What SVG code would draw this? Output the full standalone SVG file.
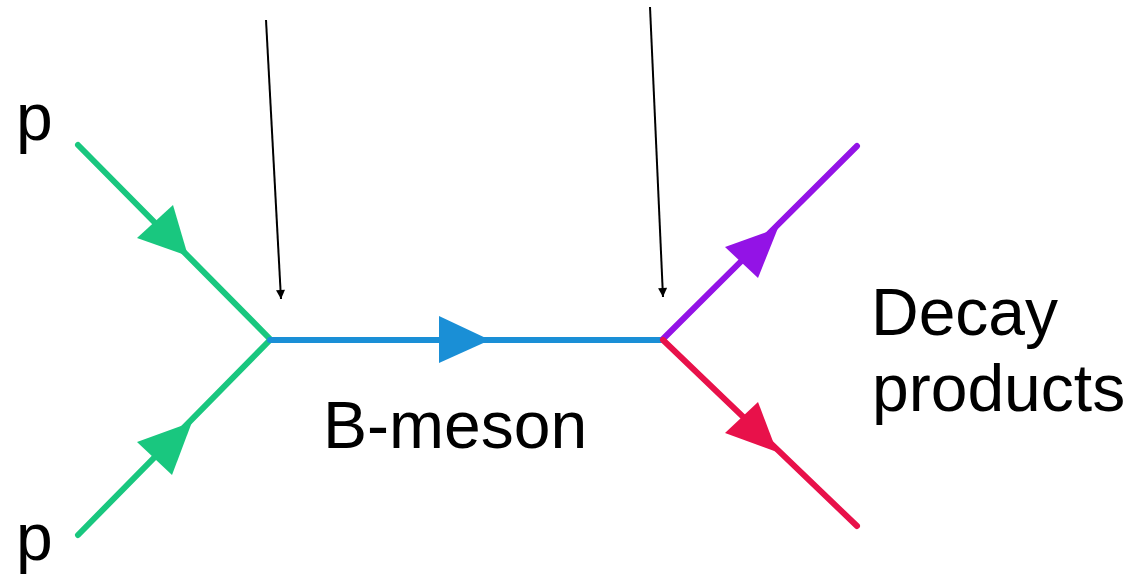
<svg xmlns="http://www.w3.org/2000/svg" width="1132" height="576" viewBox="0 0 1132 576">
  <defs>
    <marker id="blackArrow" viewBox="0 0 10 10" refX="10" refY="5" markerWidth="12" markerHeight="9" markerUnits="userSpaceOnUse" orient="auto">
      <path d="M0,0 L10,5 L0,10 Z" fill="#000"/>
    </marker>
  </defs>
  <style>
    .lbl { font-family: "Liberation Sans", Arial, sans-serif; font-size: 66px; fill: #000; }
    .prop { fill: none; stroke-width: 6; stroke-linecap: round; }
    .pointer { stroke: #000; stroke-width: 2; fill: none; }
  </style>
  <rect width="1132" height="576" fill="#fff"/>

  <g id="connectors">
    <g id="proton-top">
      <line class="prop" x1="78" y1="145" x2="270" y2="339" stroke="#19c77f"/>
      <polygon points="188,256 137,238 173,205" fill="#19c77f"/>
    </g>
    <g id="proton-bottom">
      <line class="prop" x1="78" y1="535" x2="270" y2="340" stroke="#19c77f"/>
      <polygon points="192,422 137,442 172,475" fill="#19c77f"/>
    </g>
    <g id="b-meson-line">
      <line class="prop" x1="270" y1="340" x2="663" y2="340" stroke="#1a8fd6"/>
      <polygon points="439,316 490,340 439,363" fill="#1a8fd6"/>
    </g>
    <g id="decay-up">
      <line class="prop" x1="663" y1="339" x2="857" y2="146" stroke="#9313e6"/>
      <polygon points="778,228 725,247 758,278" fill="#9313e6"/>
    </g>
    <g id="decay-down">
      <line class="prop" x1="663" y1="340" x2="857" y2="526" stroke="#e8114a"/>
      <polygon points="777,452 725,433 758,402" fill="#e8114a"/>
    </g>
    <line class="pointer" x1="266" y1="20" x2="281" y2="299" marker-end="url(#blackArrow)"/>
    <line class="pointer" x1="650" y1="7" x2="663" y2="297" marker-end="url(#blackArrow)"/>
  </g>

  <g id="label-p-top"><text class="lbl" x="16" y="140">p</text></g>
  <g id="label-p-bottom"><text class="lbl" x="16" y="560">p</text></g>
  <g id="label-b-meson"><text class="lbl" x="323" y="448">B-meson</text></g>
  <g id="label-decay">
    <text class="lbl" x="871" y="335">Decay</text>
    <text class="lbl" x="872" y="411">products</text>
  </g>
</svg>
